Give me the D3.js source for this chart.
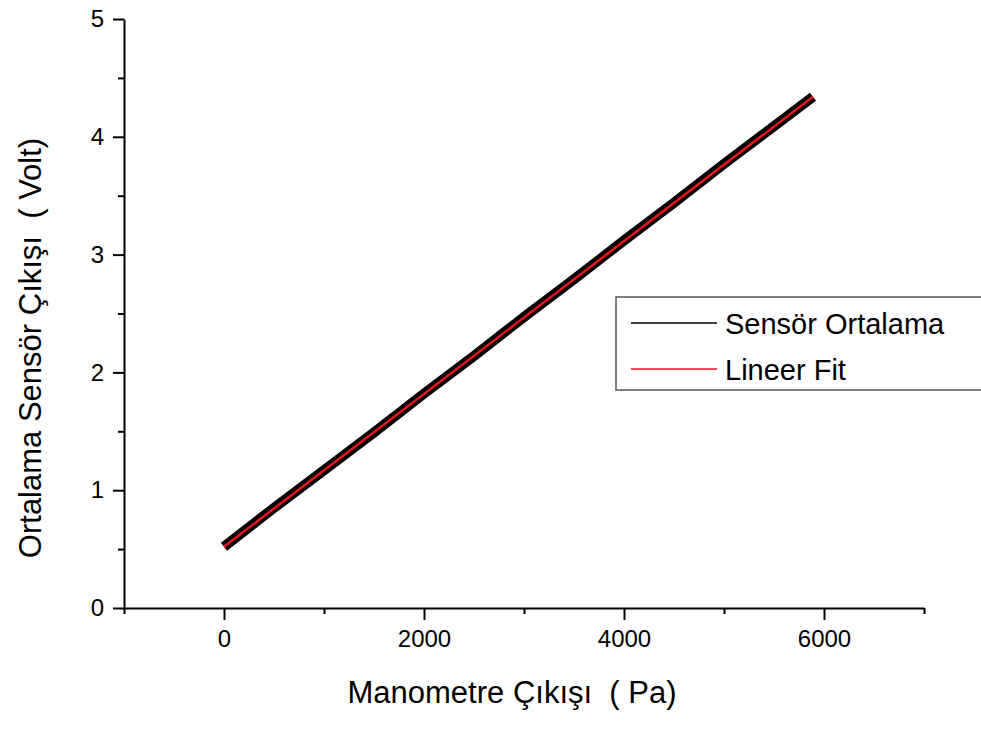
<!DOCTYPE html>
<html><head><meta charset="utf-8">
<script src="https://cdn.jsdelivr.net/npm/d3@7"></script>
<style>body{margin:0;background:#fff;}svg{display:block;}text{white-space:pre;}</style>
</head><body>
<script>
// Data
const pressure = [0, 500, 1000, 1500, 2000, 2500, 3000, 3500, 4000, 4500, 5000, 5500, 5890];
const sensorVolt = [0.52, 0.85, 1.17, 1.49, 1.82, 2.14, 2.47, 2.79, 3.12, 3.44, 3.77, 4.09, 4.34];
const fitX = [0, 5890];
const fitY = [0.52, 4.34];
const xMajorTicks = [0, 2000, 4000, 6000];
const xMinorTicks = [-1000, 1000, 3000, 5000, 7000];
const yMajorTicks = [0, 1, 2, 3, 4, 5];
const yMinorTicks = [0.5, 1.5, 2.5, 3.5, 4.5];
const legendLabels = ["Sensör Ortalama", "Lineer Fit"];
const seriesColors = ["#000000", "#e8141c"];

const W = 981, H = 729;
const FONT = "'Liberation Sans', Arial, sans-serif";
const svg = d3.select("body").append("svg").attr("width", W).attr("height", H);

const x = d3.scaleLinear().domain([-1000, 7000]).range([124, 924]);
const y = d3.scaleLinear().domain([0, 5]).range([608, 19]);

// Data line (thick black)
const line = d3.line().x(d => x(d[0])).y(d => y(d[1]));
svg.append("path").datum(pressure.map((p, i) => [p, sensorVolt[i]]))
  .attr("d", line).attr("fill", "none").attr("stroke", seriesColors[0])
  .attr("stroke-width", 10).attr("stroke-linecap", "butt");
// Fit line (red)
svg.append("path").datum(fitX.map((p, i) => [p, fitY[i]]))
  .attr("d", line).attr("fill", "none").attr("stroke", seriesColors[1])
  .attr("stroke-width", 2.5);

// X axis
const gx = svg.append("g").attr("transform", `translate(0,${y(0)})`);
gx.call(d3.axisBottom(x).tickValues(xMajorTicks).tickSize(12).tickSizeOuter(0).tickPadding(10).tickFormat(d3.format("d")));
gx.append("g").call(d3.axisBottom(x).tickValues(xMinorTicks).tickSize(6).tickSizeOuter(0).tickFormat(""))
  .select(".domain").remove();
// Y axis
const gy = svg.append("g").attr("transform", `translate(${x(-1000)},0)`);
gy.call(d3.axisLeft(y).tickValues(yMajorTicks).tickSize(11).tickSizeOuter(0).tickPadding(9).tickFormat(d3.format("d")));
gy.append("g").call(d3.axisLeft(y).tickValues(yMinorTicks).tickSize(6).tickSizeOuter(0).tickFormat(""))
  .select(".domain").remove();

svg.selectAll(".domain").attr("stroke", "#000").attr("stroke-width", 2);
svg.selectAll(".tick line").attr("stroke", "#000").attr("stroke-width", 2);
svg.selectAll(".tick text").attr("font-family", FONT).attr("font-size", 24).attr("fill", "#000");

// Axis titles
svg.append("text").attr("x", 512).attr("y", 703).attr("text-anchor", "middle")
  .attr("font-family", FONT).attr("font-size", 31).text("Manometre Çıkışı  ( Pa)");
svg.append("text").attr("transform", "translate(41,348) rotate(-90)").attr("text-anchor", "middle")
  .attr("font-family", FONT).attr("font-size", 31).text("Ortalama Sensör Çıkışı  ( Volt)");

// Legend
const lg = svg.append("g");
lg.append("rect").attr("x", 616).attr("y", 297).attr("width", 400).attr("height", 93)
  .attr("fill", "#fff").attr("stroke", "#555").attr("stroke-width", 1.5);
const rowsY = [323, 369];
legendLabels.forEach((lab, i) => {
  lg.append("line").attr("x1", 631).attr("x2", 717).attr("y1", rowsY[i]).attr("y2", rowsY[i])
    .attr("stroke", seriesColors[i]).attr("stroke-width", 1.5);
  lg.append("text").attr("x", 725).attr("y", rowsY[i] + 11).attr("font-family", FONT)
    .attr("font-size", 29).text(lab);
});
</script>
</body></html>
